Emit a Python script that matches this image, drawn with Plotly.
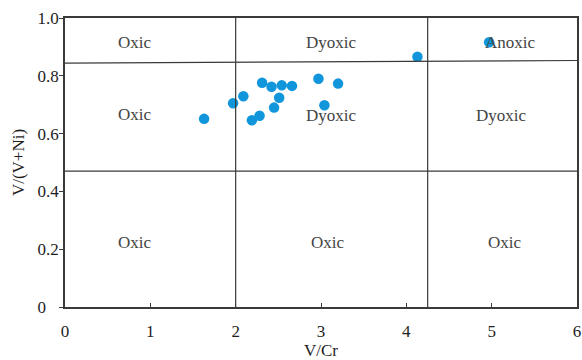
import plotly.graph_objects as go

# V/Cr and V/(V+Ni) ratios of the samples
v_cr = [1.63, 1.97, 2.09, 2.31, 2.42, 2.54, 2.66, 2.51, 2.45, 2.28, 2.19, 2.97, 3.20, 3.04, 4.13, 4.97]
v_vni = [0.651, 0.705, 0.729, 0.776, 0.762, 0.767, 0.765, 0.724, 0.690, 0.662, 0.646, 0.790, 0.773, 0.698, 0.866, 0.916]

# Field boundaries
vcr_bounds = [2.0, 4.25]
vni_upper = [0.844, 0.853]   # upper V/(V+Ni) boundary at V/Cr = 0 and 6
vni_lower = 0.47

# Field labels: (x, y, text)
field_x = [0.82, 3.12, 5.22, 0.82, 3.12, 5.12, 0.82, 3.08, 5.16]
field_y = [0.915, 0.915, 0.915, 0.665, 0.662, 0.662, 0.222, 0.222, 0.222]
field_text = ["Oxic", "Dyoxic", "Anoxic", "Oxic", "Dyoxic", "Dyoxic", "Oxic", "Oxic", "Oxic"]

x_ticks = [0, 1, 2, 3, 4, 5, 6]
y_ticks = [0, 0.2, 0.4, 0.6, 0.8, 1.0]
y_ticktext = ["0\u00a0\u00a0\u00a0", "0.2", "0.4", "0.6", "0.8", "1.0"]

serif = "Liberation Serif"
line_col = "#3a3a3a"
text_col = "#1e1e1e"

fig = go.Figure()

fig.add_trace(go.Scatter(
    x=v_cr, y=v_vni, mode="markers",
    marker=dict(size=10.5, color="#1296DB", line=dict(width=0)),
    showlegend=False, hoverinfo="skip",
))

shapes = []
for xv in vcr_bounds:
    shapes.append(dict(type="line", xref="x", yref="y", x0=xv, x1=xv, y0=0, y1=1,
                       line=dict(color=line_col, width=1.2)))
shapes.append(dict(type="line", xref="x", yref="y", x0=0, x1=6, y0=vni_upper[0], y1=vni_upper[1],
                   line=dict(color=line_col, width=1.2)))
shapes.append(dict(type="line", xref="x", yref="y", x0=0, x1=6, y0=vni_lower, y1=vni_lower,
                   line=dict(color=line_col, width=1.2)))

annotations = [
    dict(x=fx, y=fy, text=t, xref="x", yref="y", showarrow=False,
         font=dict(family=serif, size=17, color="#444444"))
    for fx, fy, t in zip(field_x, field_y, field_text)
]

fig.update_layout(
    width=582, height=360,
    margin=dict(l=65, r=5, t=18, b=53),
    paper_bgcolor="white", plot_bgcolor="white",
    shapes=shapes, annotations=annotations,
    xaxis=dict(
        range=[0, 6], tickvals=x_ticks, ticks="inside", ticklen=4, tickwidth=1,
        tickcolor=line_col, showgrid=False, zeroline=False, automargin=False,
        showline=True, linecolor=line_col, linewidth=1.5, mirror=True,
        ticklabelstandoff=8,
        tickfont=dict(family=serif, size=17, color=text_col),
        title=dict(text="V/Cr", font=dict(family=serif, size=17, color=text_col), standoff=8),
    ),
    yaxis=dict(
        range=[0, 1.0], tickvals=y_ticks, ticktext=y_ticktext, ticks="outside", ticklen=4,
        tickwidth=1, tickcolor=line_col, showgrid=False, zeroline=False, automargin=False,
        showline=True, linecolor=line_col, linewidth=1.5, mirror=True,
        ticklabelstandoff=-3,
        tickfont=dict(family=serif, size=17, color=text_col),
        title=dict(text="V/(V+Ni)", font=dict(family=serif, size=17, color=text_col), standoff=9),
    ),
)

fig.write_html("out.html")
